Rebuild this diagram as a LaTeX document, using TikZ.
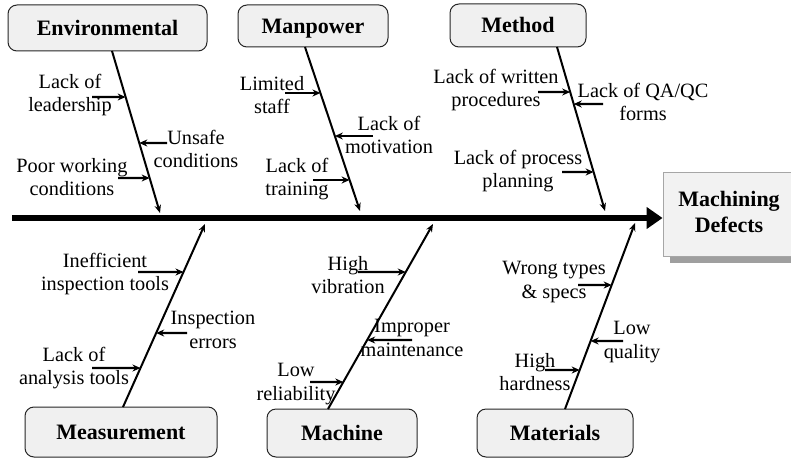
\documentclass[tikz,border=0pt]{standalone}
\usepackage{fontspec}
\setmainfont{Liberation Serif}
\usetikzlibrary{arrows.meta,shadows}

\tikzset{
  catbox/.style={draw=black!85, fill=gray!12, line width=1pt, rounded corners=9pt,
    inner sep=0pt, text height=15pt, text depth=0pt,
    font=\fontsize{22}{25.5}\selectfont\bfseries},
  effectbox/.style={draw=gray!70, fill=gray!10, line width=0.8pt, inner sep=0pt,
    drop shadow={shadow xshift=7pt, shadow yshift=-7pt, fill=gray!75, opacity=1}},
  lbl/.style={align=center, inner sep=0pt, font=\fontsize{20.3}{23.8}\selectfont},
  spine/.style={line width=6.5pt, -{Triangle[length=16pt,width=21pt]}},
  bone/.style={line width=2pt, -{Stealth[length=8pt,width=6.5pt]}},
  cause/.style={line width=2.4pt, -{Stealth[length=8pt,width=7pt]}}
}

\begin{document}
\begin{tikzpicture}[x=1pt, y=-1pt]
\useasboundingbox (0,0) rectangle (791,460);

% effect box (runs off the right edge)
\node[effectbox, minimum width=140pt, minimum height=84pt] (effect) at (733,214) {};
\node[lbl, font=\fontsize{22}{26}\selectfont\bfseries] (effecttext) at (729,212) {Machining\\Defects};

% category boxes
\node[catbox, minimum width=199pt, minimum height=46pt] (env)  at (107.5,28) {Environmental};
\node[catbox, minimum width=150pt, minimum height=42pt] (man)  at (313,26)   {Manpower};
\node[catbox, minimum width=136pt, minimum height=43pt] (meth) at (518,25.5) {Method};
\node[catbox, minimum width=192pt, minimum height=50pt] (meas) at (121,432)  {Measurement};
\node[catbox, minimum width=150pt, minimum height=48pt] (mach) at (342,433)  {Machine};
\node[catbox, minimum width=156pt, minimum height=48pt] (mat)  at (555,433)  {Materials};

% spine
\coordinate (tail) at (12,218);
\draw[spine] (tail) -- (effect.west |- tail);

% bone end points
\coordinate (env-a)  at (112,51);  \coordinate (env-b)  at (160,213);
\coordinate (man-a)  at (305,47);  \coordinate (man-b)  at (360,211);
\coordinate (meth-a) at (557,47);  \coordinate (meth-b) at (605,211);
\coordinate (meas-a) at (123,407); \coordinate (meas-b) at (205,224);
\coordinate (mach-a) at (328,409); \coordinate (mach-b) at (433,224);
\coordinate (mat-a)  at (565,409); \coordinate (mat-b)  at (635,223);

\foreach \b in {env,man,meth,meas,mach,mat}
  \draw[bone] (\b-a) -- (\b-b);

% cause labels
\node[lbl] (c1)  at (70,95)   {Lack of\\leadership};
\node[lbl] (c2)  at (196,149) {Unsafe\\conditions};
\node[lbl] (c3)  at (72,177)  {Poor working\\conditions};
\node[lbl] (c4)  at (272,95)  {Limited\\staff};
\node[lbl] (c5)  at (389,135) {Lack of\\motivation};
\node[lbl] (c6)  at (297,179) {Lack of\\training};
\node[lbl] (c7)  at (496,90)  {Lack of written\\procedures};
\node[lbl] (c8)  at (643,102) {Lack of QA/QC\\forms};
\node[lbl] (c9)  at (518,171) {Lack of process\\planning};
\node[lbl] (c10) at (105,274) {Inefficient\\inspection tools};
\node[lbl] (c11) at (213,330) {Inspection\\errors};
\node[lbl] (c12) at (74,368)  {Lack of\\analysis tools};
\node[lbl] (c13) at (348,275) {High\\vibration};
\node[lbl] (c14) at (412,338) {Improper\\maintenance};
\node[lbl] (c15) at (296,384) {Low\\reliability};
\node[lbl] (c16) at (554,282) {Wrong types\\\& specs};
\node[lbl] (c17) at (632,342) {Low\\quality};
\node[lbl] (c18) at (535,372) {High\\hardness};

% cause arrows: from a tail point horizontally onto the bone
\foreach \b/\tx/\ty in {env/92/97, env/167/143, env/118/178,
                        man/285/93, man/373/136, man/313/180,
                        meth/538/92, meth/603/104, meth/562/172,
                        meas/138/272, meas/187/333, meas/92/368,
                        mach/358/272, mach/412/340, mach/310/382,
                        mat/578/285, mat/623/341, mat/545/370}
  \draw[cause] (\tx,\ty) -- (intersection of \b-a--\b-b and \tx,\ty--0,\ty);
\end{tikzpicture}
\end{document}
